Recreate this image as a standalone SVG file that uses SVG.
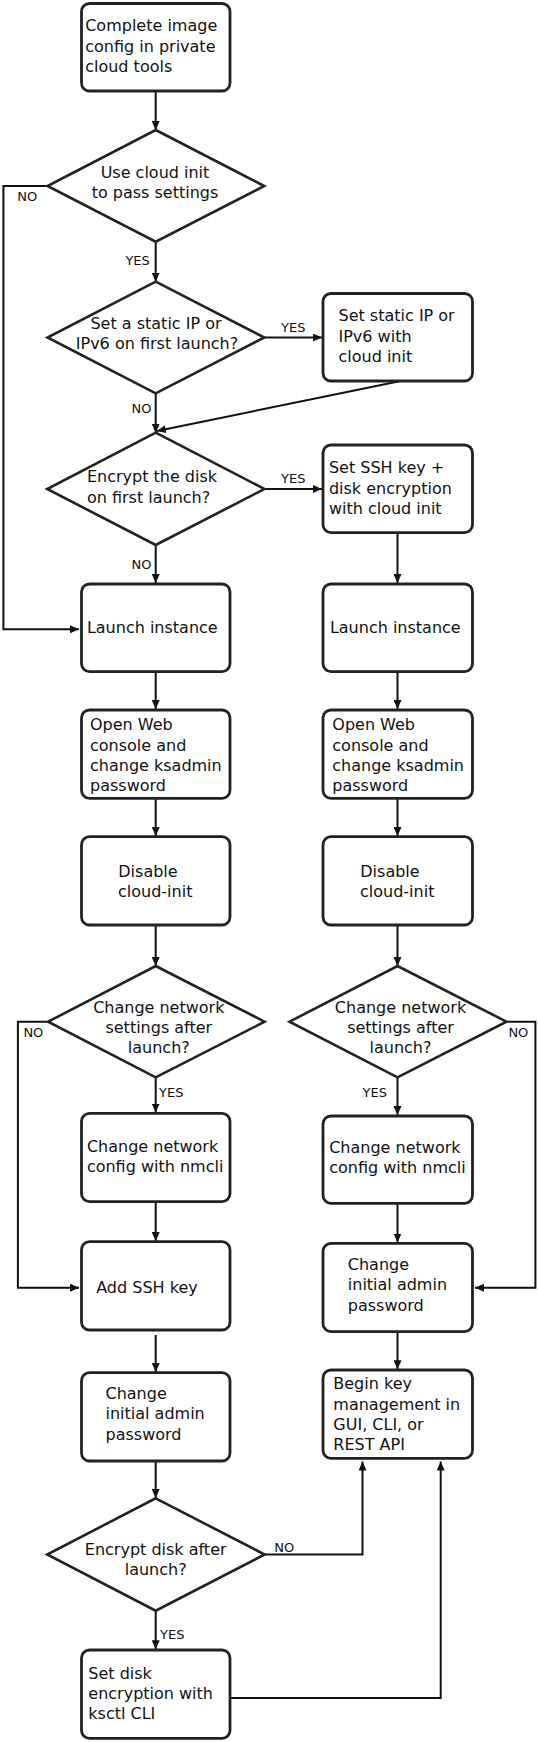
<svg xmlns="http://www.w3.org/2000/svg" width="538" height="1742" viewBox="0 0 538 1742">
<style>
.box{fill:#fff;stroke:#222;stroke-width:2.8}
.dia{fill:#fff;stroke:#222;stroke-width:2.6}
.t{font-family:"DejaVu Sans",Verdana,sans-serif;font-size:16px;fill:#111}
.c{text-anchor:middle}
.lbl{font-family:"DejaVu Sans",Verdana,sans-serif;font-size:13px;fill:#111}
.ln{fill:none;stroke:#111;stroke-width:2}
</style>
<defs>
<marker id="ah" markerUnits="userSpaceOnUse" markerWidth="9" markerHeight="8" refX="9" refY="4" orient="auto">
<path d="M0,0 L9,4 L0,8 z" fill="#111"/>
</marker>
</defs>
<rect width="538" height="1742" fill="#fff"/>

<g id="connectors">
<path class="ln" marker-end="url(#ah)" d="M155.7,91 L155.7,130"/>
<path class="ln" marker-end="url(#ah)" d="M155.7,241.7 L155.7,281.7"/>
<path class="ln" marker-end="url(#ah)" d="M47.5,186 L3.4,186 L3.4,629.3 L79,629.3"/>
<path class="ln" marker-end="url(#ah)" d="M264.5,337.5 L322,337.5"/>
<path class="ln" marker-end="url(#ah)" d="M155.7,393.3 L155.7,432.7"/>
<path class="ln" marker-end="url(#ah)" d="M398.3,381.5 L157,431"/>
<path class="ln" marker-end="url(#ah)" d="M264.5,489 L322,489"/>
<path class="ln" marker-end="url(#ah)" d="M155.7,545 L155.7,583"/>
<path class="ln" marker-end="url(#ah)" d="M397.5,533 L397.5,583"/>
<path class="ln" marker-end="url(#ah)" d="M155.7,672 L155.7,709"/>
<path class="ln" marker-end="url(#ah)" d="M397.5,672 L397.5,709"/>
<path class="ln" marker-end="url(#ah)" d="M155.7,798.5 L155.7,836"/>
<path class="ln" marker-end="url(#ah)" d="M397.5,798.5 L397.5,836"/>
<path class="ln" marker-end="url(#ah)" d="M155.7,925 L155.7,966"/>
<path class="ln" marker-end="url(#ah)" d="M397.5,925 L397.5,966"/>
<path class="ln" marker-end="url(#ah)" d="M155.7,1077.3 L155.7,1112.5"/>
<path class="ln" marker-end="url(#ah)" d="M397.5,1077.3 L397.5,1115"/>
<path class="ln" marker-end="url(#ah)" d="M47.5,1021.7 L17.9,1021.7 L17.9,1287.7 L79,1287.7"/>
<path class="ln" marker-end="url(#ah)" d="M506.9,1021.7 L535.4,1021.7 L535.4,1287.7 L475,1287.7"/>
<path class="ln" marker-end="url(#ah)" d="M155.7,1202 L155.7,1241"/>
<path class="ln" marker-end="url(#ah)" d="M397.5,1203.5 L397.5,1242.5"/>
<path class="ln" marker-end="url(#ah)" d="M155.7,1335 L155.7,1372"/>
<path class="ln" marker-end="url(#ah)" d="M397.5,1332 L397.5,1369.3"/>
<path class="ln" marker-end="url(#ah)" d="M155.7,1461.3 L155.7,1498"/>
<path class="ln" marker-end="url(#ah)" d="M264.6,1554.5 L362.5,1554.5 L362.5,1461.5"/>
<path class="ln" marker-end="url(#ah)" d="M155.7,1610.7 L155.7,1649.3"/>
<path class="ln" marker-end="url(#ah)" d="M230.7,1698 L440.7,1698 L440.7,1461.5"/>
<text class="lbl" x="17.2" y="201">NO</text>
<text class="lbl" x="125.4" y="265">YES</text>
<text class="lbl" x="281.1" y="332">YES</text>
<text class="lbl" x="131.6" y="413.3">NO</text>
<text class="lbl" x="281.1" y="483.3">YES</text>
<text class="lbl" x="131.6" y="569">NO</text>
<text class="lbl" x="23.4" y="1036.7">NO</text>
<text class="lbl" x="508.4" y="1036.7">NO</text>
<text class="lbl" x="159.1" y="1097.3">YES</text>
<text class="lbl" x="362.5" y="1097.3">YES</text>
<text class="lbl" x="274.2" y="1551.7">NO</text>
<text class="lbl" x="160" y="1639.3">YES</text>
</g>

<g id="n-complete">
<rect class="box" x="81.5" y="3.5" width="148.5" height="87.5" rx="8"/>
<text class="t" x="85.2" y="31">Complete image</text>
<text class="t" x="85.2" y="51.7">config in private</text>
<text class="t" x="85.2" y="71.7">cloud tools</text>
</g>

<g id="d-cloudinit">
<polygon class="dia" points="155.7,130 264.3,186 155.7,241.7 47.5,186"/>
<text class="t c" x="155" y="177.7">Use cloud init</text>
<text class="t c" x="155" y="197.7">to pass settings</text>
</g>

<g id="d-static">
<polygon class="dia" points="155.7,281.7 264.3,337.5 155.7,393.3 47.5,337.5"/>
<text class="t c" x="156" y="329">Set a static IP or</text>
<text class="t c" x="157" y="349">IPv6 on first launch?</text>
</g>

<g id="n-static">
<rect class="box" x="323" y="293.5" width="149.5" height="87.5" rx="8"/>
<text class="t" x="338.5" y="321">Set static IP or</text>
<text class="t" x="338.5" y="341.7">IPv6 with</text>
<text class="t" x="338.5" y="361.7">cloud init</text>
</g>

<g id="d-encrypt-first">
<polygon class="dia" points="155.7,432.7 264.5,489 155.7,545 47.2,489"/>
<text class="t" x="86.9" y="482.3">Encrypt the disk</text>
<text class="t" x="86.9" y="502.7">on first launch?</text>
</g>

<g id="n-ssh-cloudinit">
<rect class="box" x="323" y="445" width="149.5" height="87.7" rx="8"/>
<text class="t" x="328.9" y="473.3">Set SSH key +</text>
<text class="t" x="328.9" y="494">disk encryption</text>
<text class="t" x="328.9" y="514.3">with cloud init</text>
</g>

<g id="n-launch-l">
<rect class="box" x="81.5" y="584" width="148.5" height="87.7" rx="8"/>
<text class="t" x="86.9" y="632.7">Launch instance</text>
</g>

<g id="n-launch-r">
<rect class="box" x="323" y="584" width="149.5" height="87.7" rx="8"/>
<text class="t" x="329.9" y="632.7">Launch instance</text>
</g>

<g id="n-web-l">
<rect class="box" x="81.5" y="710" width="148.5" height="88.3" rx="8"/>
<text class="t" x="90" y="730">Open Web</text>
<text class="t" x="90" y="750.7">console and</text>
<text class="t" x="90" y="770.7">change ksadmin</text>
<text class="t" x="90" y="791">password</text>
</g>

<g id="n-web-r">
<rect class="box" x="323" y="710" width="149.5" height="88.3" rx="8"/>
<text class="t" x="332.3" y="730">Open Web</text>
<text class="t" x="332.3" y="750.7">console and</text>
<text class="t" x="332.3" y="770.7">change ksadmin</text>
<text class="t" x="332.3" y="791">password</text>
</g>

<g id="n-disable-l">
<rect class="box" x="81.5" y="836.7" width="148.5" height="88.3" rx="8"/>
<text class="t" x="118.3" y="877">Disable</text>
<text class="t" x="118" y="897.3">cloud-init</text>
</g>

<g id="n-disable-r">
<rect class="box" x="323" y="836.7" width="149.5" height="88.3" rx="8"/>
<text class="t" x="360.3" y="877">Disable</text>
<text class="t" x="360" y="897.3">cloud-init</text>
</g>

<g id="d-net-l">
<polygon class="dia" points="155.7,966 264.6,1021.7 155.7,1077.3 48.1,1021.7"/>
<text class="t c" x="158.8" y="1012.7">Change network</text>
<text class="t c" x="158.8" y="1032.7">settings after</text>
<text class="t c" x="158.8" y="1053">launch?</text>
</g>

<g id="d-net-r">
<polygon class="dia" points="397.5,966 506.5,1021.7 397.5,1077.3 289.5,1021.7"/>
<text class="t c" x="400.5" y="1012.7">Change network</text>
<text class="t c" x="400.5" y="1032.7">settings after</text>
<text class="t c" x="400.5" y="1053">launch?</text>
</g>

<g id="n-nmcli-l">
<rect class="box" x="81.5" y="1113.3" width="148.5" height="88.4" rx="8"/>
<text class="t" x="86.9" y="1151.7">Change network</text>
<text class="t" x="86.9" y="1171.7">config with nmcli</text>
</g>

<g id="n-nmcli-r">
<rect class="box" x="323" y="1116" width="149.5" height="87.3" rx="8"/>
<text class="t" x="329.2" y="1153.3">Change network</text>
<text class="t" x="329.2" y="1173.3">config with nmcli</text>
</g>

<g id="n-addssh">
<rect class="box" x="81.5" y="1241.7" width="148.5" height="88.3" rx="8"/>
<text class="t" x="96.2" y="1293.3">Add SSH key</text>
</g>

<g id="n-admin-r">
<rect class="box" x="323" y="1243.3" width="149.5" height="88.4" rx="8"/>
<text class="t" x="347.8" y="1270">Change</text>
<text class="t" x="347.8" y="1290.3">initial admin</text>
<text class="t" x="347.8" y="1310.7">password</text>
</g>

<g id="n-admin-l">
<rect class="box" x="81.5" y="1372.7" width="148.5" height="88.3" rx="8"/>
<text class="t" x="105.5" y="1399.3">Change</text>
<text class="t" x="105.5" y="1419.3">initial admin</text>
<text class="t" x="105.5" y="1440">password</text>
</g>

<g id="n-begin">
<rect class="box" x="323" y="1370" width="149.5" height="88.3" rx="8"/>
<text class="t" x="333.3" y="1389.3">Begin key</text>
<text class="t" x="333.3" y="1410">management in</text>
<text class="t" x="333.3" y="1430">GUI, CLI, or</text>
<text class="t" x="333.3" y="1450.3">REST API</text>
</g>

<g id="d-encrypt-after">
<polygon class="dia" points="155.7,1498.3 264.6,1554.5 155.7,1610.7 47.2,1554.5"/>
<text class="t c" x="155.7" y="1555">Encrypt disk after</text>
<text class="t c" x="155.7" y="1575">launch?</text>
</g>

<g id="n-ksctl">
<rect class="box" x="81.5" y="1650" width="148.5" height="88.3" rx="8"/>
<text class="t" x="88.3" y="1679.3">Set disk</text>
<text class="t" x="88.3" y="1699.3">encryption with</text>
<text class="t" x="88.3" y="1719.3">ksctl CLI</text>
</g>
</svg>
